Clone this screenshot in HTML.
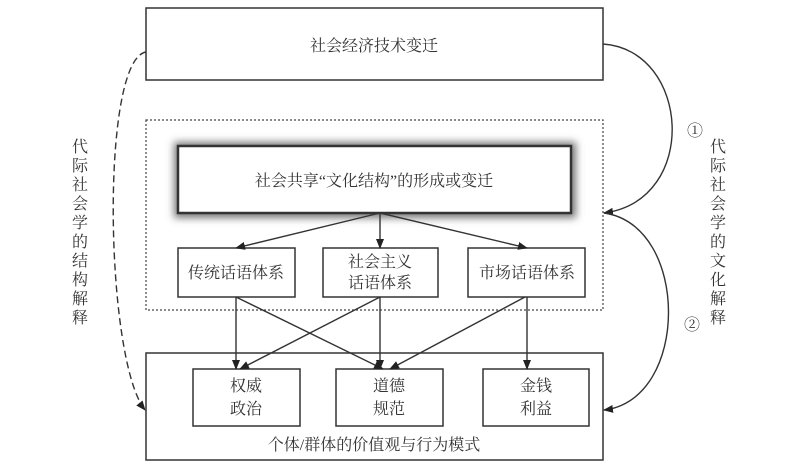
<!DOCTYPE html>
<html><head><meta charset="utf-8"><style>
body{margin:0;background:#fff}
svg{display:block}
text{font-family:"Liberation Serif","Noto Serif CJK SC",serif;fill:#333;font-size:16px}
</style></head><body>
<svg width="798" height="468" viewBox="0 0 798 468">
<defs>
<marker id="a" markerWidth="10" markerHeight="8" refX="9" refY="4" orient="auto" markerUnits="userSpaceOnUse"><path d="M0,0 L10,4 L0,8 z" fill="#222"/></marker>
<filter id="sh" x="-10%" y="-30%" width="120%" height="160%"><feGaussianBlur stdDeviation="4"/></filter>
</defs>
<rect x="146" y="8" width="457" height="72" fill="none" stroke="#333" stroke-width="1.5"/>
<text x="374" y="51" text-anchor="middle">社会经济技术变迁</text>
<rect x="146" y="120" width="457" height="190" fill="none" stroke="#444" stroke-width="1.2" stroke-dasharray="2,2"/>
<rect x="174" y="142" width="402" height="76" fill="#777" filter="url(#sh)"/>
<rect x="178" y="146" width="393" height="67" fill="#fff" stroke="#333" stroke-width="2.5"/>
<text x="374" y="186" text-anchor="middle">社会共享“文化结构”的形成或变迁</text>
<g stroke="#333" stroke-width="1.5" fill="#fff">
<rect x="178" y="248" width="117" height="49"/>
<rect x="323" y="248" width="115" height="49"/>
<rect x="468" y="248" width="117" height="49"/>
<rect x="146" y="353" width="457" height="107"/>
<rect x="193" y="369" width="107" height="57"/>
<rect x="336" y="369" width="107" height="57"/>
<rect x="483" y="369" width="106" height="57"/>
</g>
<text x="236" y="278" text-anchor="middle">传统话语体系</text>
<text x="380" y="267" text-anchor="middle">社会主义</text>
<text x="380" y="288" text-anchor="middle">话语体系</text>
<text x="527" y="278" text-anchor="middle">市场话语体系</text>
<text x="246" y="391" text-anchor="middle">权威</text>
<text x="246" y="414" text-anchor="middle">政治</text>
<text x="389" y="391" text-anchor="middle">道德</text>
<text x="389" y="414" text-anchor="middle">规范</text>
<text x="536" y="391" text-anchor="middle">金钱</text>
<text x="536" y="414" text-anchor="middle">利益</text>
<text x="374" y="450" text-anchor="middle">个体/群体的价值观与行为模式</text>
<g stroke="#333" stroke-width="1.4" fill="none" marker-end="url(#a)">
<line x1="380" y1="213" x2="236" y2="248"/>
<line x1="380" y1="213" x2="380" y2="248"/>
<line x1="380" y1="213" x2="527" y2="248"/>
<line x1="236" y1="297" x2="236" y2="369"/>
<line x1="236" y1="297" x2="383" y2="369"/>
<line x1="380" y1="297" x2="240" y2="369"/>
<line x1="380" y1="297" x2="380" y2="369"/>
<line x1="525" y1="297" x2="390" y2="369"/>
<line x1="527" y1="297" x2="527" y2="369"/>
<path d="M603,44 C690,50 700,200 604,213"/>
<path d="M604,213 C690,225 690,400 604,410"/>
<path d="M146,52 C100,60 105,360 145,410" stroke-dasharray="7,4"/>
</g>
<text x="695" y="136" text-anchor="middle">①</text>
<text x="692" y="330" text-anchor="middle">②</text>
<g text-anchor="middle">
<text x="718" y="152">代</text><text x="718" y="171">际</text><text x="718" y="190">社</text><text x="718" y="209">会</text><text x="718" y="228">学</text><text x="718" y="247">的</text><text x="718" y="266">文</text><text x="718" y="285">化</text><text x="718" y="304">解</text><text x="718" y="323">释</text>
<text x="80" y="152">代</text><text x="80" y="171">际</text><text x="80" y="190">社</text><text x="80" y="209">会</text><text x="80" y="228">学</text><text x="80" y="247">的</text><text x="80" y="266">结</text><text x="80" y="285">构</text><text x="80" y="304">解</text><text x="80" y="323">释</text>
</g>
</svg>
</body></html>
